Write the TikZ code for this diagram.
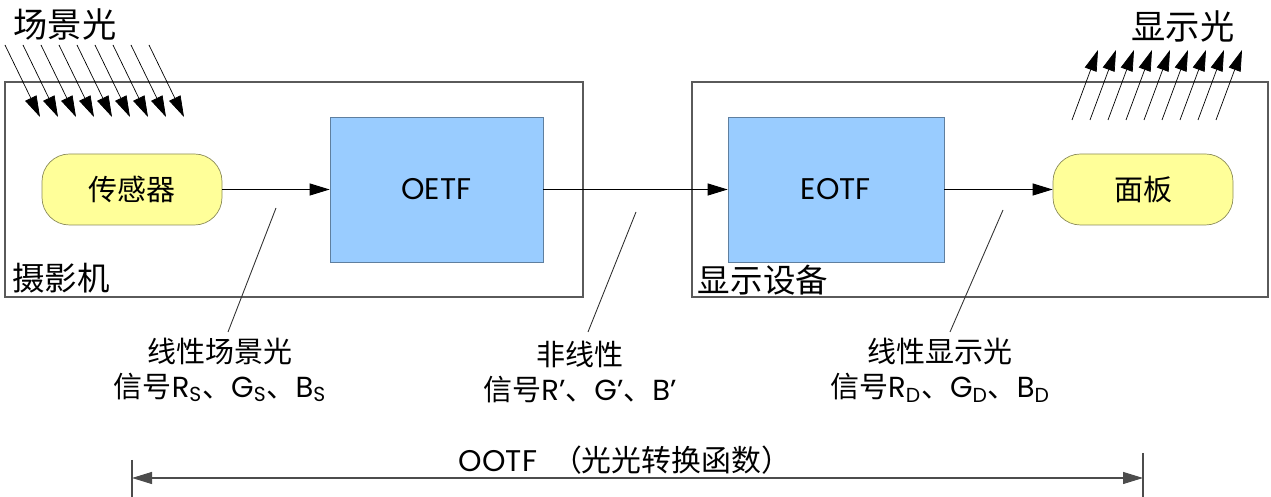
\documentclass[tikz,border=0pt]{standalone}
\usepackage{fontspec}
\setmainfont{Poppins}
\newfontfamily\cjk{Noto Sans CJK SC}
\usepackage{tikz}
\usetikzlibrary{arrows.meta,positioning}

\definecolor{sensorfill}{HTML}{FFFF99}
\definecolor{sensorline}{HTML}{8C8C5A}
\definecolor{blockfill}{HTML}{99CCFF}
\definecolor{blockline}{HTML}{5F7F9F}
\definecolor{framecol}{HTML}{5A5A5A}

\newcommand{\zh}[1]{{\cjk #1}}
\newcommand{\bodyfont}{\fontsize{16.5}{20}\selectfont}
\newcommand{\bigfont}{\fontsize{19.5}{22}\selectfont}

\begin{document}
\begin{tikzpicture}[scale=1.0,
    >={Triangle[length=0.4cm,width=0.24cm]},
    devbox/.style={draw=framecol,line width=0.8pt,minimum height=4.3cm,inner sep=0pt},
    pill/.style={draw=sensorline,fill=sensorfill,rounded corners=0.55cm,
        minimum width=3.6cm,minimum height=1.42cm,font=\bodyfont},
    tfblock/.style={draw=blockline,fill=blockfill,minimum height=2.9cm,font=\fontsize{17}{20}\selectfont},
    flow/.style={->,line width=0.6pt},
    ray/.style={-{Triangle[length=0.42cm,width=0.25cm]},line width=0.4pt},
    leader/.style={line width=0.5pt,black!80},
    siglabel/.style={align=center,font=\bodyfont}]
\useasboundingbox (0,0) rectangle (25.42,9.94);

% Device frames
\node[devbox,minimum width=11.56cm] (camera) at (5.88,6.15) {};
\node[devbox,minimum width=11.52cm] (display) at (19.6,6.15) {};
\node[font=\fontsize{18.5}{20}\selectfont] (cameratxt) at (1.22,4.38) {\zh{摄影机}};
\node[font=\fontsize{18.5}{20}\selectfont] (displaytxt) at (15.26,4.34) {\zh{显示设备}};

% Blocks
\node[pill] (sensor) at (2.64,6.15) {\zh{传感器}};
\node[tfblock,minimum width=4.26cm] (oetf) at (8.73,6.15) {OETF};
\node[tfblock,minimum width=4.32cm] (eotf) at (16.72,6.15) {EOTF};
\node[pill] (panel) at (22.86,6.15) {\zh{面板}};

\draw[flow] (sensor) -- (oetf);
\draw[flow] (oetf) -- (eotf);
\draw[flow] (eotf) -- (panel);

% Light in and out
\node[font=\bigfont] (scenelight) at (1.3,9.46) {\zh{场景光}};
\node[font=\bigfont] (displaylight) at (23.66,9.42) {\zh{显示光}};
\foreach \k in {0,...,8}
    \draw[ray] ({0.1+0.36*\k},9.04) -- ({0.8+0.36*\k},7.6);
\foreach \k in {0,...,8}
    \draw[ray] ({21.44+0.36*\k},7.54) -- ({21.96+0.36*\k},8.94);

% Signal labels
\coordinate (lin1top) at (5.52,5.78);
\coordinate (lin1end) at (4.56,3.30);
\coordinate (nltop) at (12.72,5.70);
\coordinate (nlend) at (11.76,3.30);
\coordinate (lin2top) at (20.06,5.74);
\coordinate (lin2end) at (19.0,3.30);
\draw[leader] (lin1top) -- (lin1end);
\draw[leader] (nltop) -- (nlend);
\draw[leader] (lin2top) -- (lin2end);

\node[siglabel] (scenesig) at (4.4,2.54)
    {\zh{线性场景光}\\\zh{信号}R\textsubscript{S}\zh{、}G\textsubscript{S}\zh{、}B\textsubscript{S}};
\node[siglabel] (nlsig) at (11.6,2.5)
    {\zh{非线性}\\\zh{信号}R’\zh{、}G’\zh{、}B’};
\node[siglabel] (dispsig) at (18.8,2.54)
    {\zh{线性显示光}\\\zh{信号}R\textsubscript{D}\zh{、}G\textsubscript{D}\zh{、}B\textsubscript{D}};

% OOTF span
\node[font=\fontsize{17}{20}\selectfont] (ootf) at (12.5,0.74) {OOTF\hspace{0.3cm}\zh{（光光转换函数）}};
\coordinate (ootfL) at (2.64,0.38);
\coordinate (ootfR) at (22.86,0.38);
\draw[<->,line width=0.6pt,black!70] (ootfL) -- (ootfR);
\draw[line width=0.6pt,black!70] (2.64,0.74) -- (2.64,0);
\draw[line width=0.6pt,black!70] (22.86,0.88) -- (22.86,0);
\end{tikzpicture}
\end{document}
